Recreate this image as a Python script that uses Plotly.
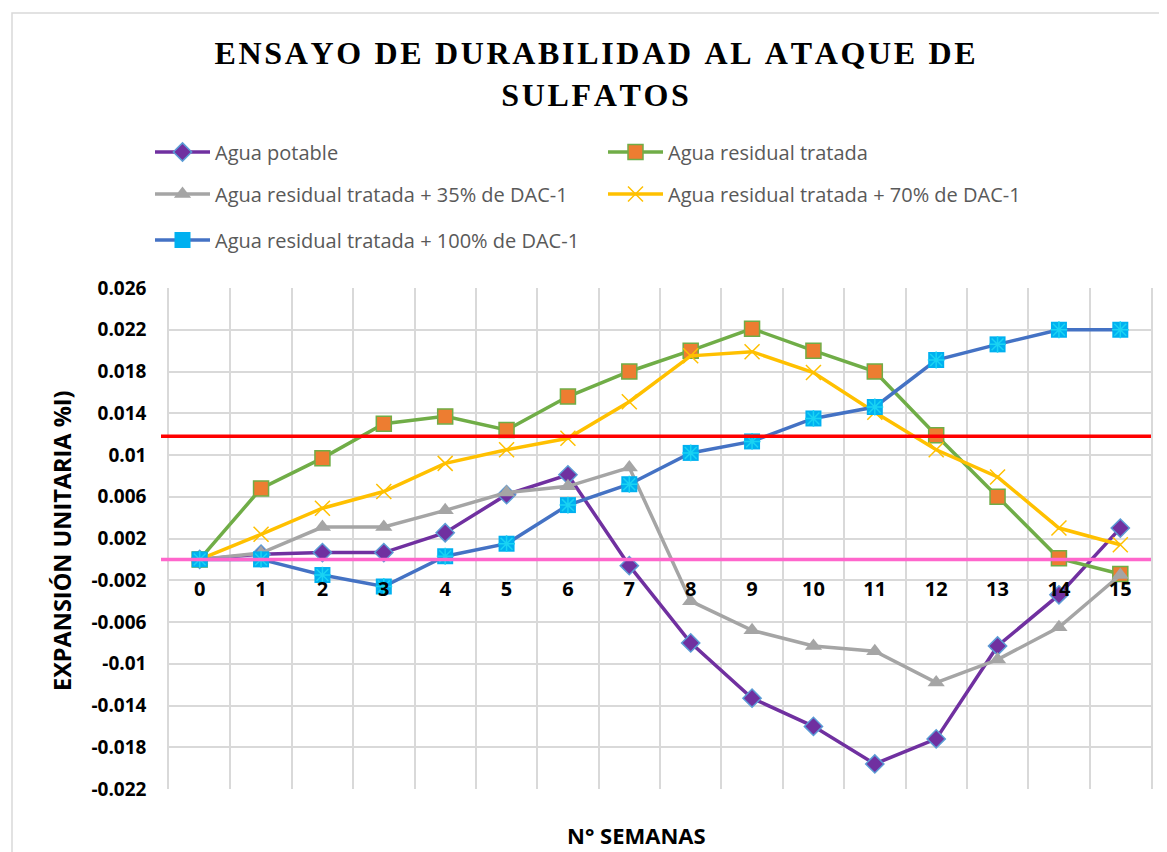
import plotly.graph_objects as go

# N° semanas
WEEKS = list(range(16))
X_TICK_TEXT = [str(w) for w in WEEKS]

# expansión unitaria por serie
AGUA_POTABLE = [0, 0.0005, 0.00065, 0.00065, 0.00255, 0.0062, 0.0081, -0.0006,
                -0.0080, -0.0133, -0.0160, -0.0196, -0.0172, -0.0083, -0.0034, 0.0030]
AGUA_RESIDUAL = [0, 0.0068, 0.0097, 0.0130, 0.0137, 0.0124, 0.0156, 0.0180,
                 0.0200, 0.0221, 0.0200, 0.0180, 0.0119, 0.0060, 0.0001, -0.0014]
DAC_35 = [0, 0.0006, 0.0031, 0.0031, 0.0047, 0.0064, 0.0070, 0.0088,
          -0.0040, -0.0068, -0.0083, -0.0088, -0.0118, -0.0096, -0.0065, -0.0015]
DAC_70 = [0, 0.0024, 0.0049, 0.0065, 0.0092, 0.0105, 0.0116, 0.0151,
          0.0195, 0.0199, 0.0179, 0.0141, 0.0105, 0.0079, 0.0030, 0.0014]
DAC_100 = [0, 0, -0.0015, -0.0026, 0.0003, 0.0015, 0.0052, 0.0072,
           0.0102, 0.0113, 0.0135, 0.0146, 0.0191, 0.0206, 0.0220, 0.0220]

# líneas de referencia
LIMITE = 0.0118
BASE = 0.0

Y_TICKS = [-0.022, -0.018, -0.014, -0.01, -0.006, -0.002, 0.002, 0.006,
           0.01, 0.014, 0.018, 0.022, 0.026]
Y_TICK_TEXT = ["-0.022", "-0.018", "-0.014", "-0.01", "-0.006", "-0.002", "0.002",
               "0.006", "0.01", "0.014", "0.018", "0.022", "0.026"]

FONT = "Open Sans"
TITLE = "ENSAYO DE DURABILIDAD AL ATAQUE DE<br>SULFATOS"

# the page body adds an 8px margin, so the figure is drawn 8px smaller
W, H = 1159, 844


def spaced(text: str) -> str:
    """Add hair spaces between letters, like the expanded title."""
    lines = text.split("<br>")
    return "<br>".join("\u200a".join(line) for line in lines)


def px_x(page_x: float) -> float:
    return (page_x - 169) / 982


def px_y(page_y: float) -> float:
    return (789 - page_y) / 501


fig = go.Figure()

fig.add_trace(go.Scatter(
    x=WEEKS, y=AGUA_POTABLE, mode="lines+markers", name="Agua potable",
    line={"color": "#7030A0", "width": 3.5},
    marker={"symbol": "diamond", "size": 14, "color": "#7030A0",
            "line": {"color": "#5B9BD5", "width": 1.5}},
    legend="legend",
))
fig.add_trace(go.Scatter(
    x=WEEKS, y=AGUA_RESIDUAL, mode="lines+markers", name="Agua residual tratada",
    line={"color": "#70AD47", "width": 3.5},
    marker={"symbol": "square", "size": 15, "color": "#ED7D31",
            "line": {"color": "#70AD47", "width": 1.5}},
    legend="legend",
))
fig.add_trace(go.Scatter(
    x=WEEKS, y=DAC_35, mode="lines+markers", name="Agua residual tratada + 35% de DAC-1",
    line={"color": "#A5A5A5", "width": 3.5},
    marker={"symbol": "triangle-up", "size": 15, "color": "#A5A5A5"},
    legend="legend2",
))
fig.add_trace(go.Scatter(
    x=WEEKS, y=DAC_70, mode="lines+markers", name="Agua residual tratada + 70% de DAC-1",
    line={"color": "#FFC000", "width": 3.5},
    marker={"symbol": "x-thin-open", "size": 15, "color": "#FFC000",
            "line": {"color": "#FFC000", "width": 1.5}},
    legend="legend2",
))
fig.add_trace(go.Scatter(
    x=WEEKS, y=DAC_100, mode="lines+markers", name="Agua residual tratada + 100% de DAC-1",
    line={"color": "#4472C4", "width": 3.5},
    marker={"symbol": "square", "size": 16, "color": "#00B0F0"},
    legend="legend3", legendgroup="dac100",
))
fig.add_trace(go.Scatter(
    x=WEEKS, y=DAC_100, mode="markers", showlegend=False,
    marker={"symbol": "asterisk-open", "size": 14,
            "line": {"color": "#4472C4", "width": 1.5}},
    legend="legend3", legendgroup="dac100", hoverinfo="skip",
))

fig.add_shape(type="line", xref="paper", x0=px_x(161), x1=1.0, yref="y", y0=LIMITE, y1=LIMITE,
              line={"color": "#FF0000", "width": 3.5}, layer="above")
fig.add_shape(type="line", xref="paper", x0=px_x(161), x1=1.0, yref="y", y0=BASE, y1=BASE,
              line={"color": "#FF66CC", "width": 3.5}, layer="above")
# borde del área del gráfico
fig.add_shape(type="rect", xref="paper", yref="paper", x0=px_x(12), x1=px_x(1190),
              y0=px_y(880), y1=px_y(13),
              line={"color": "#D9D9D9", "width": 1.5}, layer="below")

legend_common = dict(
    orientation="h", xref="container", yref="container", xanchor="left", yanchor="middle",
    font={"family": FONT, "size": 20, "color": "#595959"}, itemwidth=55,
    entrywidth=383, bgcolor="rgba(0,0,0,0)",
)
fig.update_layout(
    width=W, height=H,
    paper_bgcolor="white", plot_bgcolor="white",
    margin={"l": 161, "r": 16, "t": 280, "b": 63},
    title={"text": spaced(TITLE), "x": 587 / W, "xref": "container", "xanchor": "center",
           "y": 1 - 56 / H, "yref": "container", "yanchor": "top",
           "font": {"family": "Liberation Serif", "size": 32, "color": "#000000", "weight": "bold"}},
    legend=dict(legend_common, x=142 / W, y=1 - 144 / H),
    legend2=dict(legend_common, x=142 / W, y=1 - 186 / H),
    legend3=dict(legend_common, x=142 / W, y=1 - 232 / H),
    xaxis={
        "range": [-0.5, 15.5], "tickvals": WEEKS, "ticktext": X_TICK_TEXT,
        "showgrid": False, "zeroline": False, "showline": False,
        "anchor": "free", "position": 0.022 / 0.048, "ticklabelstandoff": 16,
        "tickfont": {"family": FONT, "size": 20, "color": "#000000", "weight": "bold"},
        "minor": {"tickvals": [w - 0.5 for w in WEEKS] + [15.5], "showgrid": True,
                  "gridcolor": "#D9D9D9", "gridwidth": 1.5},
    },
    yaxis={
        "range": [-0.022, 0.026], "tickvals": Y_TICKS, "ticktext": Y_TICK_TEXT,
        "showgrid": True, "gridcolor": "#D9D9D9", "gridwidth": 1.5, "zeroline": False,
        "showline": True, "mirror": True, "linecolor": "#D9D9D9", "linewidth": 1.5,
        "ticklabelstandoff": 17,
        "tickfont": {"family": FONT, "size": 19, "color": "#000000", "weight": "bold"},
    },
    annotations=[
        {"text": "EXPANSIÓN UNITARIA %I)", "textangle": -90, "xref": "paper", "yref": "paper",
         "x": px_x(62), "y": px_y(541), "showarrow": False,
         "xanchor": "center", "yanchor": "middle",
         "font": {"family": FONT, "size": 23.5, "color": "#000000", "weight": "bold"}},
        {"text": "N° SEMANAS", "xref": "paper", "yref": "paper",
         "x": px_x(636), "y": px_y(835), "showarrow": False,
         "xanchor": "center", "yanchor": "middle",
         "font": {"family": FONT, "size": 22, "color": "#000000", "weight": "bold"}},
    ],
)

fig.write_html("out.html")
